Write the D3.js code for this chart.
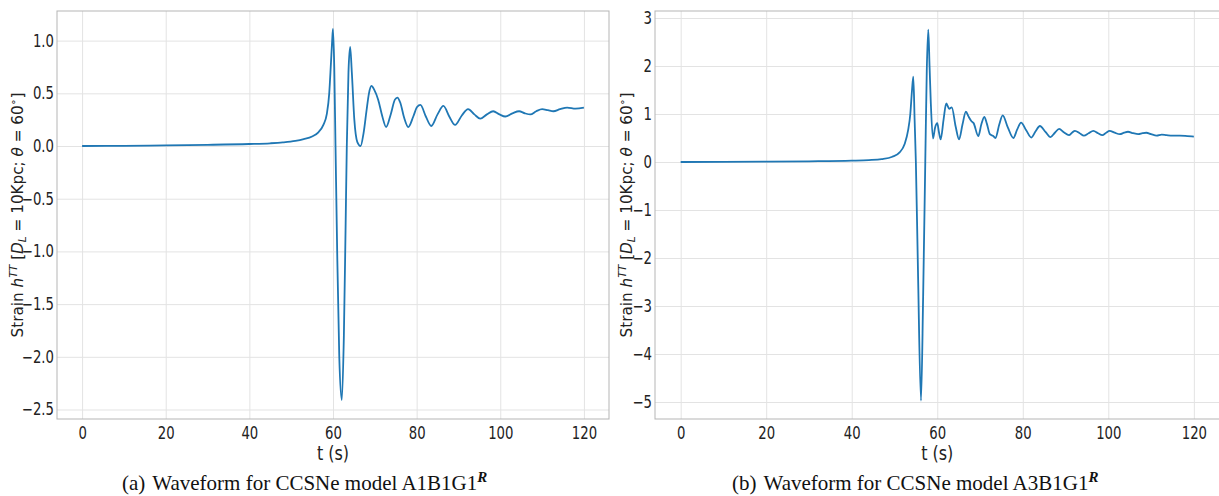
<!DOCTYPE html>
<html>
<head>
<meta charset="utf-8">
<script src="https://d3js.org/d3.v7.min.js"></script>
<style>
  html, body { margin: 0; padding: 0; background: #fff; }
  svg { display: block; }
</style>
</head>
<body>
<svg id="chart" width="1219" height="496"></svg>
<script>
// --- data ---
const xTicks = [0, 20, 40, 60, 80, 100, 120];

const leftYTicks = [-2.5, -2.0, -1.5, -1.0, -0.5, 0.0, 0.5, 1.0];
const leftT = [0, 10, 20, 30, 40, 45, 48, 51, 53, 55, 56.5, 57.7, 58.5, 59.1, 59.5, 59.8, 60.0,
  60.3, 60.6, 61.0, 61.5, 62.1, 62.6, 63.0, 63.3, 63.7, 64.1, 64.5, 65.1, 65.8, 66.6, 67.3, 68.0,
  68.6, 69.2, 69.9, 70.8, 71.8, 72.7, 73.8, 74.8, 75.4, 76.1, 77.0, 78.0, 79.2, 80.1, 80.9, 82.2,
  83.5, 85.0, 86.4, 87.8, 89.2, 90.8, 92.3, 93.8, 95.2, 96.8, 98.3, 99.8, 101.2, 102.9, 104.5,
  105.9, 107.2, 108.6, 110.0, 111.4, 112.7, 114.3, 116.0, 118.0, 120.0];
const leftV = [0.0, 0.002, 0.006, 0.011, 0.019, 0.026, 0.034, 0.048, 0.065, 0.09, 0.13, 0.2, 0.3, 0.5, 0.78, 1.0, 1.11,
  0.75, 0.0, -1.0, -2.0, -2.41, -1.8, -0.8, 0.0, 0.7, 0.94, 0.7, 0.25, 0.04, 0.0, 0.12, 0.33,
  0.5, 0.57, 0.53, 0.44, 0.28, 0.18, 0.3, 0.44, 0.46, 0.41, 0.27, 0.18, 0.28, 0.37, 0.39, 0.28,
  0.19, 0.3, 0.38, 0.28, 0.2, 0.29, 0.35, 0.3, 0.26, 0.3, 0.33, 0.3, 0.28, 0.31, 0.33,
  0.31, 0.3, 0.33, 0.35, 0.34, 0.33, 0.35, 0.365, 0.355, 0.365];

const rightYTicks = [-5, -4, -3, -2, -1, 0, 1, 2, 3];
const rightT = [0, 10, 20, 30, 40, 44, 47, 49.5, 51.2, 52.4, 53.2, 53.7, 54.1, 54.4, 54.7, 55.0,
  55.5, 56.2, 56.7, 57.2, 57.55, 57.9, 58.2, 58.5, 59.0, 59.5, 60.0, 60.4, 60.8, 61.5, 62.1, 62.8,
  63.4, 64.3, 65.1, 65.9, 66.7, 67.3, 68.0, 68.5, 69.6, 70.3, 71.0, 71.6, 72.3, 73.1, 73.6, 74.5,
  75.3, 76.5, 77.8, 78.7, 79.6, 80.8, 82.0, 83.0, 84.0, 85.3, 86.5, 87.5, 88.5, 89.6, 90.8, 91.5,
  92.2, 93.3, 94.3, 95.4, 96.5, 97.6, 98.6, 99.5, 100.3, 101.5, 102.7, 103.7, 104.6, 105.8, 107.0,
  108.0, 108.9, 110.0, 111.3, 112.5, 113.6, 115.0, 116.7, 118.5, 120.0];
const rightV = [0.0, 0.003, 0.008, 0.015, 0.028, 0.04, 0.06, 0.11, 0.2, 0.38, 0.67, 1.0, 1.5, 1.78, 0.9, 0.0,
  -2.3, -4.97, -2.8, 0.0, 1.9, 2.76, 2.0, 1.22, 0.49, 0.72, 0.81, 0.62, 0.47, 0.9, 1.22, 1.11,
  1.14, 0.74, 0.47, 0.78, 1.05, 0.95, 0.85, 0.81, 0.54, 0.78, 0.94, 0.8, 0.58, 0.54, 0.5, 0.78,
  0.97, 0.72, 0.5, 0.68, 0.82, 0.66, 0.51, 0.64, 0.75, 0.63, 0.52, 0.61, 0.69, 0.62, 0.56, 0.61,
  0.65, 0.6, 0.55, 0.6, 0.65, 0.6, 0.56, 0.61, 0.65, 0.61, 0.58, 0.61, 0.63, 0.6, 0.58,
  0.6, 0.61, 0.58, 0.55, 0.57, 0.56, 0.55, 0.55, 0.54, 0.53];

const captions = [
  { label: "(a)", model: "A1B1G1", sup: "R" },
  { label: "(b)", model: "A3B1G1", sup: "R" }
];

// --- layout ---
const svg = d3.select("#chart");
const squeeze = 0.78;   // the figure's sans text is horizontally condensed
const lineColor = "#1f77b4";
const gridColor = "#e3e3e3";
const frameColor = "#b5b5b5";

const panels = [
  { x0: 57, x1: 609, y0: 11, y1: 419, yDomain: [-2.59, 1.281], yTicks: leftYTicks,
    fmt: d3.format(".1f"), t: leftT, v: leftV, ylabX: 23, capX: 122, cap: captions[0] },
  { x0: 655, x1: 1219.5, y0: 11, y1: 419, yDomain: [-5.354, 3.146], yTicks: rightYTicks,
    fmt: d3.format("d"), t: rightT, v: rightV, ylabX: 632, capX: 732, cap: captions[1] }
];

panels.forEach(p => {
  const x = d3.scaleLinear().domain([-6, 126]).range([p.x0, p.x1]);
  const y = d3.scaleLinear().domain(p.yDomain).range([p.y1, p.y0]);
  const w = p.x1 - p.x0, h = p.y1 - p.y0;

  // grid
  svg.append("g")
    .attr("transform", `translate(0,${p.y1})`)
    .call(d3.axisBottom(x).tickValues(xTicks).tickSize(-h).tickFormat(""))
    .call(g => g.select(".domain").remove())
    .call(g => g.selectAll("line").attr("stroke", gridColor).attr("stroke-width", 1));
  svg.append("g")
    .attr("transform", `translate(${p.x0},0)`)
    .call(d3.axisLeft(y).tickValues(p.yTicks).tickSize(-w).tickFormat(""))
    .call(g => g.select(".domain").remove())
    .call(g => g.selectAll("line").attr("stroke", gridColor).attr("stroke-width", 1));

  // frame
  svg.append("rect")
    .attr("x", p.x0).attr("y", p.y0).attr("width", w).attr("height", h)
    .attr("fill", "none").attr("stroke", frameColor).attr("stroke-width", 1);

  // tick labels
  svg.append("g")
    .attr("transform", `translate(${p.x0},0)`)
    .call(d3.axisLeft(y).tickValues(p.yTicks).tickSize(0).tickPadding(3).tickFormat(p.fmt))
    .call(g => g.select(".domain").remove())
    .call(g => g.selectAll("text")
      .attr("font-family", "DejaVu Sans").attr("font-size", 17).attr("fill", "#222")
      .attr("x", -3 / squeeze)
      .attr("transform", `scale(${squeeze},1)`));
  svg.append("g")
    .attr("transform", `translate(0,${p.y1})`)
    .call(d3.axisBottom(x).tickValues(xTicks).tickSize(0).tickPadding(8))
    .call(g => g.select(".domain").remove())
    .call(g => g.selectAll("text")
      .attr("font-family", "DejaVu Sans").attr("font-size", 17).attr("fill", "#222")
      .attr("transform", `scale(${squeeze},1)`));

  // waveform
  const pts = p.t.map((t, i) => [t, p.v[i]]);
  svg.append("path")
    .datum(pts)
    .attr("fill", "none")
    .attr("stroke", lineColor)
    .attr("stroke-width", 1.8)
    .attr("stroke-linejoin", "round")
    .attr("d", d3.line().x(d => x(d[0])).y(d => y(d[1])).curve(d3.curveMonotoneX));

  // x label
  const cx = (p.x0 + p.x1) / 2;
  svg.append("text")
    .attr("transform", `translate(${cx},460) scale(0.8,1)`)
    .attr("text-anchor", "middle")
    .attr("font-family", "DejaVu Sans").attr("font-size", 20).attr("fill", "#222")
    .text("t (s)");

  // y label with math pieces
  const cy = (p.y0 + p.y1) / 2;
  const yl = svg.append("text")
    .attr("text-anchor", "middle")
    .attr("font-family", "DejaVu Sans").attr("font-size", 15).attr("fill", "#222");
  yl.append("tspan").text("Strain ");
  yl.append("tspan").attr("font-style", "italic").text("h");
  yl.append("tspan").attr("font-style", "italic").attr("font-size", 10.5).attr("dy", -6).text("TT");
  yl.append("tspan").attr("dy", 6).text(" [");
  yl.append("tspan").attr("font-style", "italic").text("D");
  yl.append("tspan").attr("font-style", "italic").attr("font-size", 10.5).attr("dy", 3).text("L");
  yl.append("tspan").attr("dy", -3).text(" = 10Kpc; ");
  yl.append("tspan").attr("font-style", "italic").text("θ");
  yl.append("tspan").text(" = 60");
  yl.append("tspan").attr("font-size", 10.5).attr("dy", -6).text("∘");
  yl.append("tspan").attr("dy", 6).text("]");
  const len = yl.node().getComputedTextLength();
  yl.attr("transform", `translate(${p.ylabX},${cy}) rotate(-90) scale(${245 / len},1)`);

  // caption
  const cap = svg.append("text")
    .attr("x", p.capX).attr("y", 490)
    .attr("font-family", "Liberation Serif").attr("font-size", 21).attr("fill", "#111");
  cap.append("tspan").text(p.cap.label);
  cap.append("tspan").attr("dx", 7).text(`Waveform for CCSNe model ${p.cap.model}`);
  cap.append("tspan").attr("font-style", "italic").attr("font-weight", "bold")
    .attr("font-size", 15).attr("dy", -8).text(p.cap.sup);
});
</script>
</body>
</html>
